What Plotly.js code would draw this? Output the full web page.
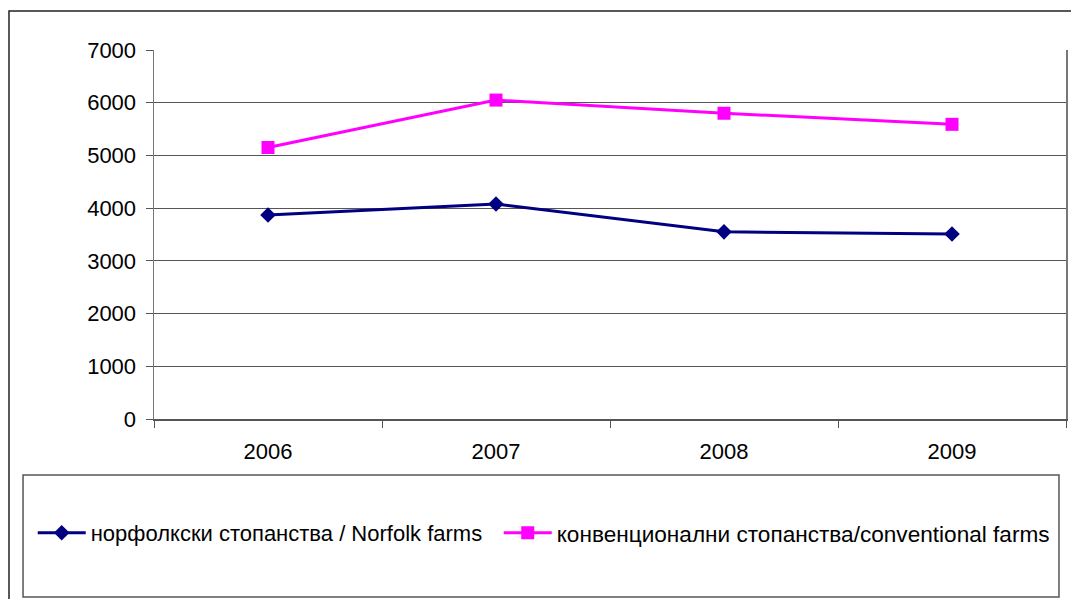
<!DOCTYPE html>
<html>
<head>
<meta charset="utf-8">
<script src="https://cdn.plot.ly/plotly-3.0.1.min.js"></script>
<style>html,body{margin:0;padding:0;background:#fff;}#chart{width:1071px;height:599px;}</style>
</head>
<body>
<div id="chart"></div>
<script>
const years = ["2006", "2007", "2008", "2009"];
const norfolkFarms = [3870, 4080, 3550, 3510];
const conventionalFarms = [5150, 6050, 5800, 5590];
const norfolkName = "норфолкски стопанства / Norfolk farms";
const conventionalName = "конвенционални стопанства/conventional farms";
const yTicks = [0, 1000, 2000, 3000, 4000, 5000, 6000, 7000];

const traces = [
  {x: years, y: norfolkFarms, name: norfolkName, type: "scatter", mode: "lines+markers", legend: "legend",
   line: {color: "#000080", width: 3}, marker: {symbol: "diamond", size: 12, color: "#000080"}},
  {x: years, y: conventionalFarms, name: conventionalName, type: "scatter", mode: "lines+markers", legend: "legend2",
   line: {color: "#FF00FF", width: 3}, marker: {symbol: "square", size: 13, color: "#FF00FF"}}
];

const layout = {
  width: 1071, height: 599,
  margin: {l: 154, r: 5, t: 50, b: 180},
  paper_bgcolor: "#fff", plot_bgcolor: "#fff",
  font: {family: "Liberation Sans, Arial, sans-serif", color: "#000", size: 22},
  showlegend: true,
  xaxis: {type: "category", range: [-0.5, 3.5], tickson: "boundaries", ticks: "outside", ticklen: 7,
          tickcolor: "#555", showline: true, linecolor: "#555", linewidth: 1.5, showgrid: false,
          tickfont: {size: 22}, ticklabelstandoff: 12, fixedrange: true},
  yaxis: {range: [0, 7000], tickvals: yTicks, ticktext: yTicks.map(String), ticks: "outside", ticklen: 7,
          tickcolor: "#555", showline: true, mirror: true, linecolor: "#777", linewidth: 1.5,
          gridcolor: "#555", gridwidth: 1, zeroline: false, tickfont: {size: 22}, ticklabelstandoff: 5,
          fixedrange: true},
  legend: {orientation: "h", x: -0.133, xanchor: "left", y: -0.309, yanchor: "middle",
           font: {size: 22}, bgcolor: "rgba(0,0,0,0)", itemwidth: 48},
  legend2: {orientation: "h", x: 0.378, xanchor: "left", y: -0.309, yanchor: "middle",
           font: {size: 22.6}, bgcolor: "rgba(0,0,0,0)", itemwidth: 48},
  shapes: [
    {type: "rect", xref: "paper", yref: "paper", x0: -0.1436, x1: 0.9923, y0: -0.4824, y1: -0.1518,
     line: {color: "#555", width: 1.5}, fillcolor: "rgba(0,0,0,0)"},
    {type: "rect", xref: "paper", yref: "paper", x0: -0.159, x1: 1.03, y0: -0.6, y1: 1.1057,
     line: {color: "#222", width: 1.5}, fillcolor: "rgba(0,0,0,0)", layer: "below"}
  ]
};
Plotly.newPlot("chart", traces, layout, {displayModeBar: false, staticPlot: true});
</script>
</body>
</html>
